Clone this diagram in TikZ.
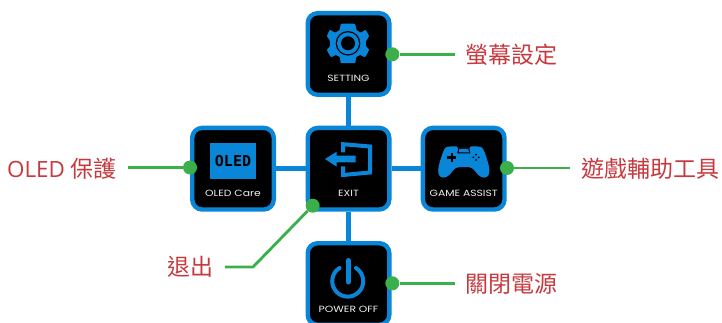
\documentclass[tikz,border=0pt]{standalone}
\usepackage{fontspec}
\setmainfont{Open Sans}
\newfontfamily\cjkfont{Noto Sans CJK TC}
\newfontfamily\smallfont{Poppins}
\newfontfamily\monofont{DejaVu Sans Mono}[BoldFont={DejaVu Sans Mono Bold}]
\definecolor{osdblue}{HTML}{0A86D8}
\definecolor{callgreen}{HTML}{3BB04A}
\definecolor{callred}{HTML}{C6393F}
\definecolor{capgrey}{HTML}{F0F0F0}
\newcommand{\widecap}[1]{\scalebox{1.2}[1]{#1}}
\tikzset{
  x=1pt,y=-1pt,
  keybox/.style={draw=osdblue,fill=black,line width=4.4pt,rounded corners=10pt,minimum width=81.6pt,minimum height=81.6pt,inner sep=0pt},
  linkline/.style={draw=osdblue,line width=4.6pt},
  gdot/.style={circle,fill=callgreen,minimum size=14pt,inner sep=0pt},
  leadline/.style={draw=callgreen,line width=2.8pt},
  captext/.style={text=capgrey,font=\smallfont\fontsize{9}{9}\selectfont,inner sep=0pt},
  callout/.style={text=callred,font=\cjkfont\fontsize{23}{23}\selectfont,inner ysep=0pt,inner xsep=11pt},
  glyph/.style={fill=osdblue,draw=none},
}
\begin{document}
\begin{tikzpicture}
\useasboundingbox (0,0) rectangle (722,323);
\clip (0,0) rectangle (722,323);
\node[keybox] (setting) at (348.5,54) {};
\node[keybox] (oled) at (233,168.7) {};
\node[keybox] (exit) at (348.5,168.7) {};
\node[keybox] (game) at (463.7,168.7) {};
\node[keybox] (power) at (348.5,284) {};
\draw[linkline] (setting.south) -- (exit.north);
\draw[linkline] (exit.south) -- (power.north);
\draw[linkline] (oled.east) -- (exit.west);
\draw[linkline] (exit.east) -- (game.west);
% captions
\node[captext] (capsetting) at (348.5,78) {\widecap{SETTING}};
\node[captext] (capoled) at (233,193) {\widecap{OLED Care}};
\node[captext] (capexit) at (348.5,193) {\widecap{EXIT}};
\node[captext] (capgame) at (463.7,193) {\widecap{GAME ASSIST}};
\node[captext] (cappower) at (348.5,309) {\widecap{POWER OFF}};
% gear icon
\fill[glyph] plot[smooth cycle,tension=0.22] coordinates {
  (348,23.5)(341,24)(339.5,30)(335,32.5)(330,30)(327,36)(330,41)(330,46)(327,50)(331,57)(336,55)(340,57.5)(341,63)(355,63)(356,57.5)(360,55)(365,57)(369,50)(366,46)(366,41)(369,36)(365.5,30)(361,32.5)(356.5,30)(355,24)};
\fill[black] (348,43.3) circle (12.3);
\fill[osdblue] (348,43.3) circle (11);
\fill[black] (348,43.3) circle (7);
% OLED icon
\node[fill=osdblue,minimum width=46pt,minimum height=36.5pt,inner sep=0pt,text=black,font=\monofont\bfseries\fontsize{15}{15}\selectfont] (oledicon) at (233,160.8) {OLED};
% exit icon
\fill[glyph] (325,159) -- (336.7,151.7) -- (336.7,155.7) -- (355.7,155.7) -- (355.7,162.3) -- (336.7,162.3) -- (336.7,166.7) -- cycle;
\draw[osdblue,line width=4pt] (343,152.5) -- (343,144.2) -- (370,146.5) -- (370,172.5) -- (343,175) -- (343,166.5);
% gamepad icon
\fill[glyph] (450,146.5) .. controls (445,146.5) and (444,149) .. (443,152) .. controls (441,158) and (438.5,165) .. (438.2,170) .. controls (438,175) and (440,177.6) .. (443.5,177.6) .. controls (448,177.6) and (451,173) .. (453.5,170) .. controls (455,168) and (457,167.2) .. (459,167.2) -- (468.6,167.2) .. controls (470.6,167.2) and (472.6,168) .. (474.1,170) .. controls (476.6,173) and (479.6,177.6) .. (484.1,177.6) .. controls (487.6,177.6) and (489.6,175) .. (489.4,170) .. controls (489.1,165) and (486.6,158) .. (484.6,152) .. controls (483.6,149) and (482.6,146.5) .. (477.6,146.5) -- (470.5,146.5) -- (470,148) -- (457.6,148) -- (457,146.5) -- cycle;
\fill[black] (458.3,148.2) -- (469.3,148.2) -- (470.3,153.3) -- (457.3,153.3) -- cycle;
\fill[osdblue] (459.3,149) -- (468.3,149) -- (468.9,152.3) -- (458.7,152.3) -- cycle;
\fill[black] (450.5,153) rectangle (453,162);
\fill[black] (447.2,156.3) rectangle (456.2,158.8);
\fill[black] (476,154.6) circle (1) (476,160) circle (1) (473.3,157.3) circle (1) (478.7,157.3) circle (1);
% power icon
\draw[osdblue,line width=4pt,line cap=round] (339.5,268) arc[start angle=122,end angle=418,x radius=15.5,y radius=-15.5];
\draw[osdblue,line width=5pt,line cap=round] (348.3,260.5) -- (348.3,282);
% callouts
\node[gdot] (dotsetting) at (392.3,54.3) {};
\node[callout,anchor=west] (tsetting) at (454.5,55) {螢幕設定};
\draw[leadline] (dotsetting) -- (dotsetting -| tsetting.west);
\node[gdot] (dotoled) at (190,167.5) {};
\node[callout,anchor=east,font=\fontsize{22.4}{23}\selectfont] (toled) at (128,169) {OLED {\cjkfont\fontsize{23}{23}\selectfont 保護}};
\draw[leadline] (dotoled) -- (dotoled -| toled.east);
\node[gdot] (dotgame) at (507,168) {};
\node[callout,anchor=west] (tgame) at (570,169) {遊戲輔助工具};
\draw[leadline] (dotgame) -- (dotgame -| tgame.west);
\node[gdot] (dotexit) at (312.7,205.7) {};
\node[callout,anchor=east] (texit) at (225,267) {退出};
\coordinate (bendexit) at (253,267);
\draw[leadline] (dotexit) -- (bendexit) -- (bendexit -| texit.east);
\node[gdot] (dotpower) at (392.3,283.3) {};
\node[callout,anchor=west] (tpower) at (454.5,284) {關閉電源};
\draw[leadline] (dotpower) -- (dotpower -| tpower.west);
\end{tikzpicture}
\end{document}
